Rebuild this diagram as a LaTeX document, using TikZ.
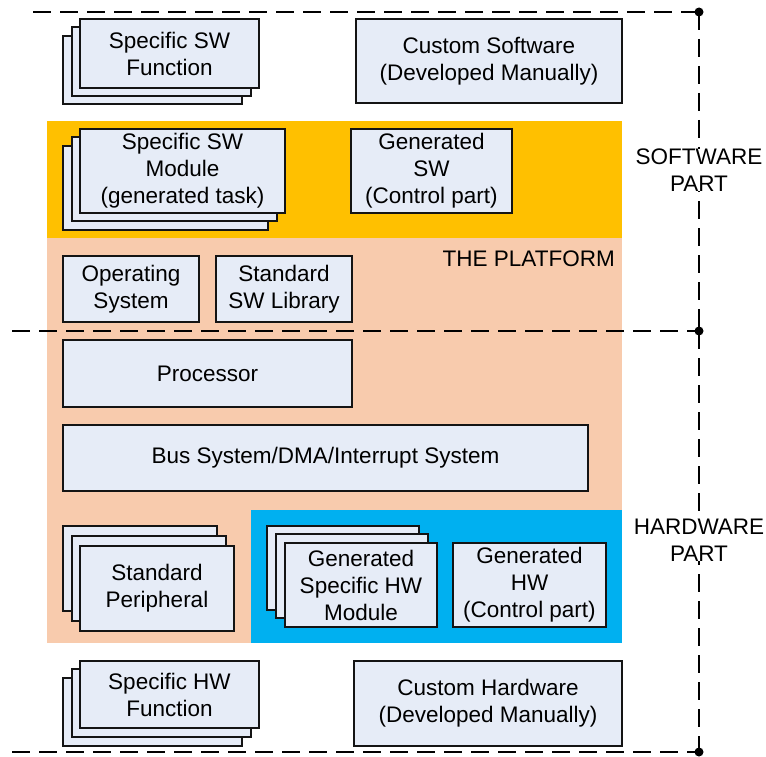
\documentclass[tikz,border=0pt]{standalone}
\usepackage{fontspec}
\setmainfont{Liberation Sans}
\definecolor{boxfill}{RGB}{230,236,247}
\definecolor{swband}{RGB}{255,192,0}
\definecolor{platform}{RGB}{248,203,173}
\definecolor{hwband}{RGB}{0,176,240}
\definecolor{edge}{RGB}{20,20,20}
\begin{document}
\begin{tikzpicture}[x=1pt,y=-1pt,
  box/.style={draw=edge, line width=2pt, fill=boxfill, align=center, inner sep=0pt,
    font=\fontsize{22.5}{27}\selectfont},
  region/.style={inner sep=0pt, draw=none},
  sep/.style={line width=2pt, dash pattern=on 18pt off 9pt},
  lbl/.style={align=center, font=\fontsize{22.5}{27}\selectfont, inner sep=0pt},
  dot/.style={circle, fill=black, inner sep=0pt, minimum size=9pt}]
\useasboundingbox (0,0) rectangle (766,757);
% coloured regions
\node[region, fill=swband, minimum width=575pt, minimum height=117pt] (orange) at (334.5,179.5) {};
\node[region, fill=platform, minimum width=575pt, minimum height=405pt] (peach) at (334.5,440.5) {};
\node[region, fill=hwband, minimum width=371pt, minimum height=133pt] (blue) at (436.5,576.5) {};
% separators
\coordinate (t0) at (33,12);
\coordinate (m0) at (12,331);
\coordinate (b0) at (12,752);
\node[dot] (dt) at (699,12) {};
\node[dot] (dm) at (699,331) {};
\node[dot] (db) at (699,752) {};
\draw[sep] (t0) -- (dt.center);
\draw[sep] (m0) -- (dm.center);
\draw[sep] (b0) -- (db.center);
\draw[sep] (dt.center) -- (dm.center);
\draw[sep] (dm.center) -- (db.center);
% labels
\node[lbl, fill=white] (swpart) at (699,170) {SOFTWARE\\PART};
\node[lbl, fill=white] (hwpart) at (699,540) {HARDWARE\\PART};
\node[lbl, anchor=east] (plat) at (615,259) {THE PLATFORM};
% Specific SW Function (stack)
\node[box, minimum width=179pt, minimum height=68pt] (sfc) at (152.5,70) {};
\node[box, minimum width=179pt, minimum height=69pt] (sfb) at (161.5,61.5) {};
\node[box, minimum width=179pt, minimum height=69pt] (sf) at (169.5,53.5) {Specific SW\\Function};
% Custom Software
\node[box, minimum width=266pt, minimum height=84pt] (cs) at (489,61) {Custom Software\\(Developed Manually)};
% Specific SW Module (stack)
\node[box, minimum width=205pt, minimum height=84pt] (smc) at (165.5,188) {};
\node[box, minimum width=205pt, minimum height=84pt] (smb) at (174.5,179) {};
\node[box, minimum width=205pt, minimum height=84pt] (sm) at (182.5,171) {Specific SW\\Module\\(generated task)};
% Generated SW
\node[box, minimum width=161pt, minimum height=84pt] (gs) at (431.5,171) {Generated\\SW\\(Control part)};
% Platform boxes
\node[box, minimum width=136pt, minimum height=66pt] (os) at (131,289) {Operating\\System};
\node[box, minimum width=136pt, minimum height=66pt] (sl) at (284,289) {Standard\\SW Library};
\node[box, minimum width=289pt, minimum height=67pt] (proc) at (207.5,373.5) {Processor};
\node[box, minimum width=525pt, minimum height=66pt] (bus) at (325.5,458) {Bus System/DMA/Interrupt System};
% Standard Peripheral (stack)
\node[box, minimum width=154pt, minimum height=85pt] (spc) at (140,568.5) {};
\node[box, minimum width=154pt, minimum height=85pt] (spb) at (149,578) {};
\node[box, minimum width=154pt, minimum height=85pt] (sp) at (157,588.5) {Standard\\Peripheral};
% Generated Specific HW Module (stack)
\node[box, minimum width=152pt, minimum height=84pt] (gmc) at (343,568) {};
\node[box, minimum width=152pt, minimum height=84pt] (gmb) at (352,576) {};
\node[box, minimum width=152pt, minimum height=84pt] (gm) at (361,585) {Generated\\Specific HW\\Module};
% Generated HW
\node[box, minimum width=153pt, minimum height=84pt] (gh) at (529.5,585) {Generated\\HW\\(Control part)};
% Specific HW Function (stack)
\node[box, minimum width=179pt, minimum height=68pt] (hfc) at (152.5,712) {};
\node[box, minimum width=179pt, minimum height=68pt] (hfb) at (161.5,703) {};
\node[box, minimum width=179pt, minimum height=67pt] (hf) at (169.5,694.5) {Specific HW\\Function};
% Custom Hardware
\node[box, minimum width=268pt, minimum height=85pt] (ch) at (488,703.5) {Custom Hardware\\(Developed Manually)};
\end{tikzpicture}
\end{document}
